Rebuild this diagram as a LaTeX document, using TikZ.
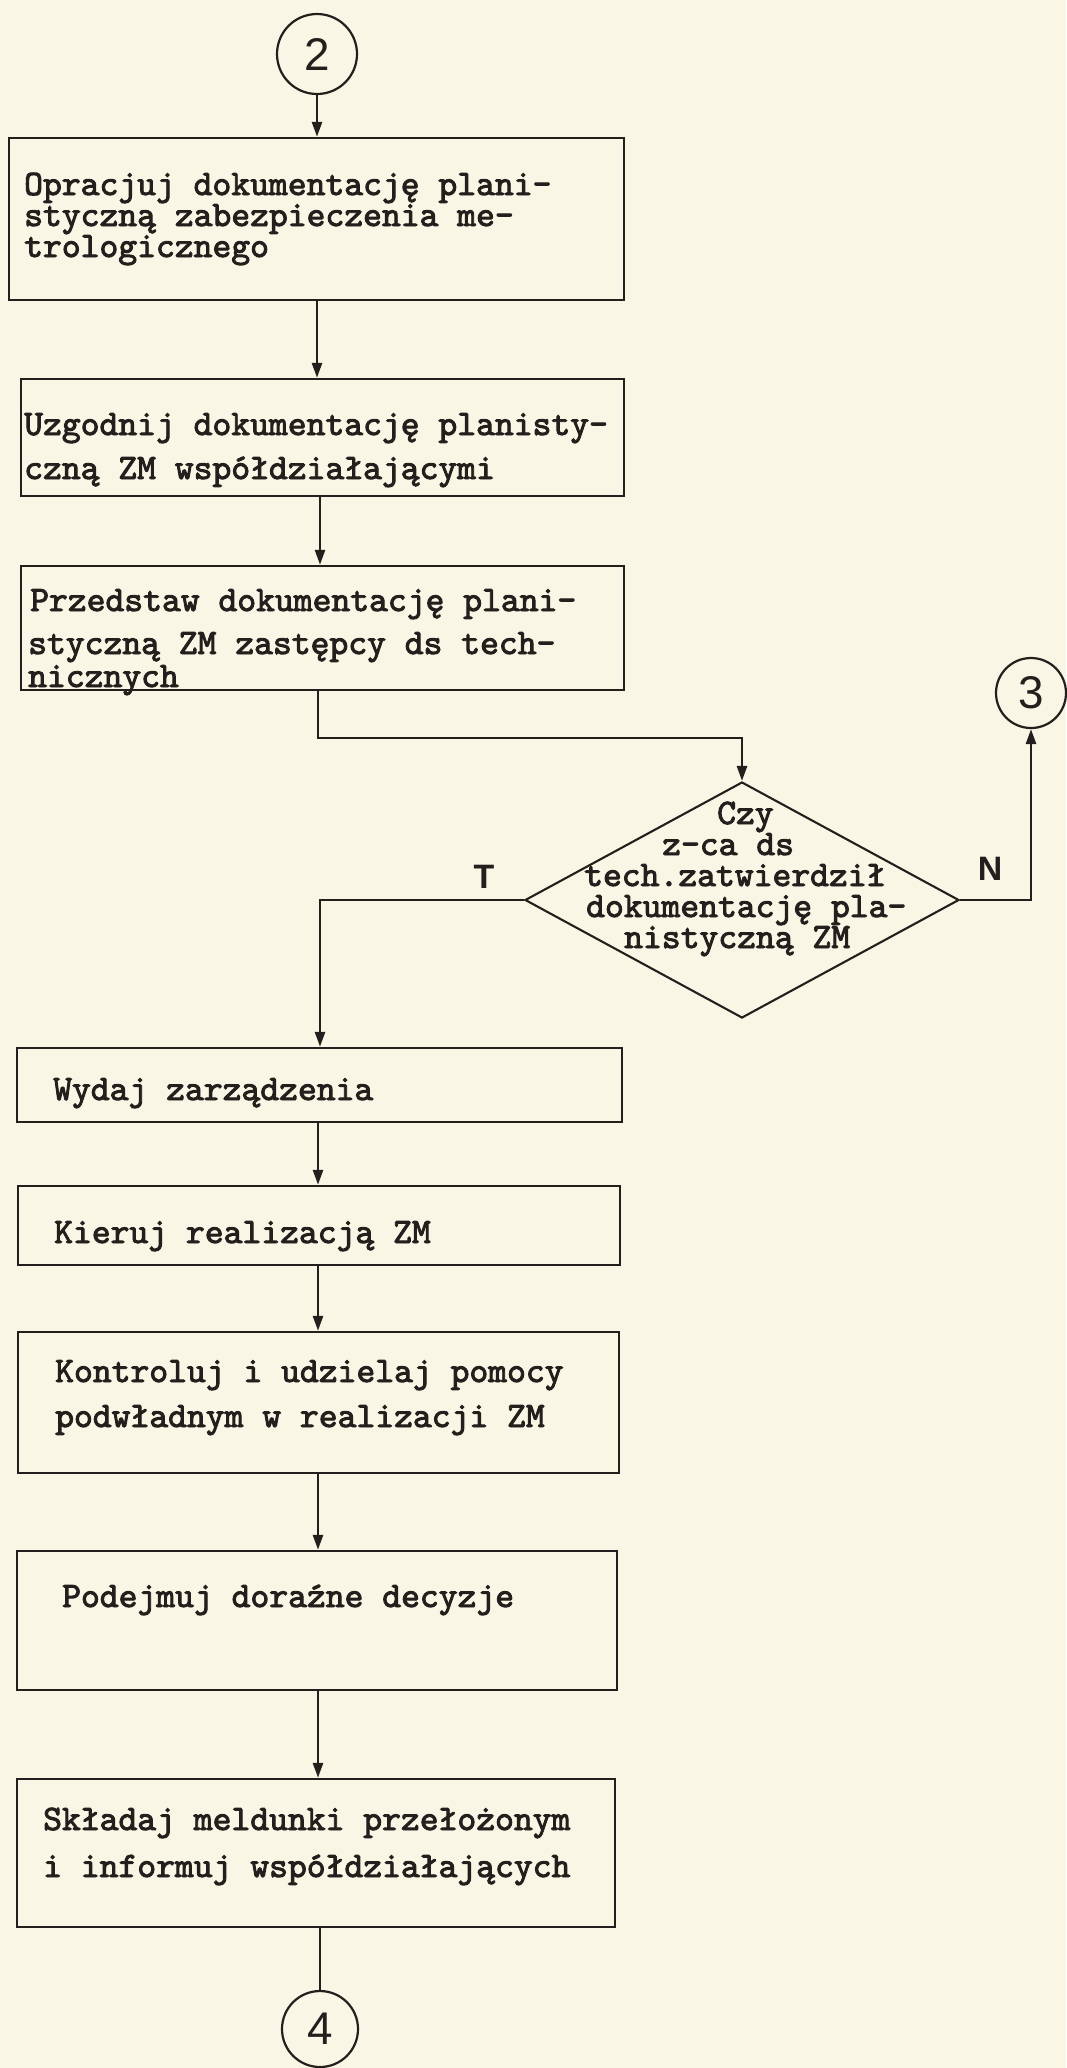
\documentclass[tikz,border=0pt]{standalone}
\usepackage{fontspec}
\usetikzlibrary{shapes.geometric,arrows.meta}
\newfontfamily\tw{lmmono10-regular.otf}[FakeBold=2.6]
\newfontfamily\lsans{Liberation Sans}
\definecolor{paper}{RGB}{250,246,229}
\definecolor{ink}{RGB}{34,31,29}
\newcommand{\tlines}[1]{\vtop{\lineskiplimit=-1000pt\lineskip=0pt #1}}
\tikzset{
  box/.style={draw=ink, line width=2.4bp, rectangle, inner sep=0pt},
  txt/.style={anchor=base west, inner sep=0pt, text=ink, font=\tw\fontsize{36}{36}\selectfont},
  conncircle/.style={circle, draw=ink, line width=2.2bp, inner sep=0pt, text=ink, font=\lsans\fontsize{46}{46}\selectfont},
  lbl/.style={inner sep=0pt, text=ink, font=\lsans\bfseries\fontsize{34}{34}\selectfont},
  conn/.style={draw=ink, line width=2.6bp},
  arr/.style={conn, -{Triangle[width=10bp,length=15bp]}},
}
\begin{document}
\begin{tikzpicture}[x=1bp,y=-1bp]
\useasboundingbox (0,0) rectangle (1066,2068);
\fill[paper] (0,0) rectangle (1066,2068);

% connector circles
\node[conncircle, minimum size=80bp] (c2) at (317,54) {2};
\node[conncircle, minimum size=70bp] (c3) at (1031,693) {3};
\node[conncircle, minimum size=76bp] (c4) at (320,2029) {4};

% boxes
\node[box, minimum width=615bp, minimum height=162bp] (b1) at (316.5,219) {};
\node[box, minimum width=603bp, minimum height=117bp] (b2) at (322.5,437.5) {};
\node[box, minimum width=603bp, minimum height=124bp] (b3) at (322.5,628) {};
\node[box, minimum width=605bp, minimum height=74bp]  (b4) at (319.5,1085) {};
\node[box, minimum width=602bp, minimum height=79bp]  (b5) at (319,1225.5) {};
\node[box, minimum width=601bp, minimum height=141bp] (b6) at (318.5,1402.5) {};
\node[box, minimum width=600bp, minimum height=139bp] (b7) at (317,1620.5) {};
\node[box, minimum width=598bp, minimum height=148bp] (b8) at (316,1853) {};

% decision
\node[diamond, draw=ink, line width=2.1bp, minimum width=434bp, minimum height=236bp, inner sep=0pt] (d) at (742,900) {};

% texts
\node[txt] (t1) at (24,195) {\tlines{\baselineskip=31bp
  \hbox{Opracjuj dokumentację plani-}
  \hbox{styczną zabezpieczenia me-}
  \hbox{trologicznego}}};

\node[txt] (t2) at (24,435) {\tlines{\baselineskip=44bp
  \hbox{Uzgodnij dokumentację planisty-}
  \hbox{czną ZM współdziałającymi}}};

\node[txt] (t3) at (28,611) {\tlines{\baselineskip=43bp
  \hbox{\kern2bp Przedstaw dokumentację plani-}
  \hbox{styczną ZM zastępcy ds tech-}\baselineskip=33bp
  \hbox{nicznych}}};

\node[txt] (td) at (584,824) {\tlines{\baselineskip=31bp
  \hbox{\kern133bp Czy}
  \hbox{\kern78bp z-ca ds}
  \hbox{tech.zatwierdził}
  \hbox{\kern2bp dokumentację pla-}
  \hbox{\kern40bp nistyczną ZM}}};

\node[txt] (t4) at (53,1100) {Wydaj zarządzenia};
\node[txt] (t5) at (54,1243) {Kieruj realizacją ZM};
\node[txt] (t6) at (55,1382) {\tlines{\baselineskip=45bp
  \hbox{Kontroluj i udzielaj pomocy}
  \hbox{podwładnym w realizacji ZM}}};
\node[txt] (t7) at (62,1607) {Podejmuj doraźne decyzje};
\node[txt] (t8) at (43,1830) {\tlines{\baselineskip=47bp
  \hbox{Składaj meldunki przełożonym}
  \hbox{i informuj współdziałających}}};

% branch labels
\node[lbl] (lT) at (484,877) {T};
\node[lbl] (lN) at (990,869) {N};

% flow
\coordinate (k1) at (318,738);
\coordinate (k2) at (320,900);
\draw[arr] (c2.south) -- (c2.south |- b1.north);
\draw[arr] (b1.south -| c2.south) -- (c2.south |- b2.north);
\draw[arr] (b2.south -| k2) -- (k2 |- b3.north);
\draw[arr] (b3.south -| k1) -- (k1) -| (d.north);
\draw[arr] (d.west) -| (k2 |- b4.north);
\draw[arr] (d.east) -| (c3.south);
\draw[arr] (b4.south -| k1) -- (k1 |- b5.north);
\draw[arr] (b5.south -| k1) -- (k1 |- b6.north);
\draw[arr] (b6.south -| k1) -- (k1 |- b7.north);
\draw[arr] (b7.south -| k1) -- (k1 |- b8.north);
\draw[conn] (b8.south -| c4.north) -- (c4.north);
\end{tikzpicture}
\end{document}
